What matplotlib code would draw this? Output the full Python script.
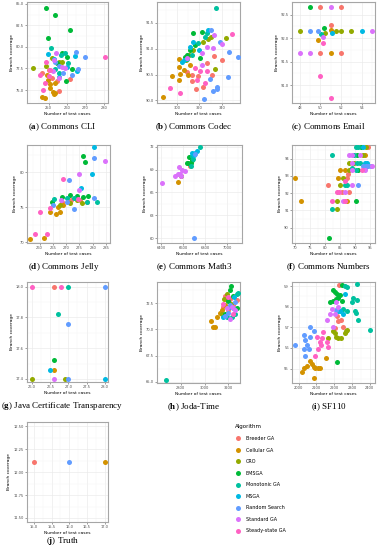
import matplotlib
matplotlib.use("Agg")
import matplotlib.pyplot as plt
from matplotlib.lines import Line2D
from matplotlib.ticker import AutoMinorLocator

plt.rcParams['mathtext.fontset'] = 'custom'
plt.rcParams['mathtext.rm'] = 'Liberation Serif'
plt.rcParams['mathtext.bf'] = 'Liberation Serif:bold'

W, H = 379, 550

algorithms = ['Breeder GA', 'Cellular GA', 'CRO', 'EMSGA', 'Monotonic GA',
              'MSGA', 'Random Search', 'Standard GA', 'Steady-state GA']
colors = ['#F8766D', '#D39200', '#93AA00', '#00BA38', '#00C19F',
          '#00B9E3', '#619CFF', '#DB72FB', '#FF61C3']

# (x = number of test cases, y = branch coverage) per algorithm
cli = {
    'Breeder GA': [(261.6, 76.3), (255.9, 74.9), (250, 77.3), (251.8, 76.4), (254.5, 76.0), (246.4, 77.0)],
    'Cellular GA': [(246.4, 74.2), (248.2, 74.1), (252.7, 74.6), (250.9, 75.2), (250.9, 75.7), (249.6, 76.2),
                    (252.3, 74.8), (253.6, 74.7), (249.1, 76.8), (253.6, 75.8)],
    'CRO': [(241.6, 77.6), (251.8, 78.7), (255.4, 78.3), (248.4, 77.8), (257.1, 78.3)],
    'EMSGA': [(248.6, 84.5), (253.6, 83.7), (261.6, 82.0), (249.6, 81.0), (259.8, 78.8), (262.5, 77.4),
              (259.5, 76.1), (257.1, 79.3), (254.5, 78.1)],
    'Monotonic GA': [(251.4, 79.9), (257, 79.1), (258.9, 79.3), (260.7, 78.1), (253.6, 77.4), (255.9, 77.0)],
    'MSGA': [(249.5, 79.2), (252.7, 78.6), (264.3, 78.9), (265.2, 77.2), (255.4, 76.5), (259.8, 77.7)],
    'Random Search': [(269.6, 78.8), (264.8, 79.4), (266, 77.4), (255.4, 77.8), (258, 77.0), (262.5, 76.7),
                      (253.6, 78.3)],
    'Standard GA': [(254.1, 79.3), (257.1, 77.7), (252.3, 77.2), (255.7, 76.4), (253, 78.5), (258.9, 77.5)],
    'Steady-state GA': [(280.4, 78.8), (248.8, 78.3), (245.5, 76.8), (247.3, 75.0), (248.2, 75.8), (250, 76.6),
                        (250.9, 77.3)],
}

codec = {
    'Breeder GA': [(333.2, 90.85), (340.3, 90.78), (326.5, 90.72), (318.5, 90.47), (316.8, 90.22), (323.5, 90.26),
                   (313.2, 90.37), (330.9, 90.5), (308.8, 90.54), (313.2, 90.5)],
    'Cellular GA': [(287.6, 90.06), (301.5, 90.79), (301.5, 90.65), (301.5, 90.4), (302.4, 90.51), (309.7, 90.5),
                    (305.9, 90.59), (295.6, 90.47), (311.2, 90.69)],
    'CRO': [(343.5, 91.21), (333.8, 90.6), (330.3, 91.23), (327.9, 91.18), (323.5, 91.13), (314.7, 90.97),
            (310.3, 90.88), (308.2, 90.78)],
    'EMSGA': [(314.7, 91.3), (316.2, 91.07), (311.8, 90.97), (308.8, 90.88), (320.6, 90.81), (322.6, 91.33),
              (307.4, 90.84)],
    'Monotonic GA': [(334.4, 91.79), (326.5, 91.31), (325, 91.23), (313.2, 90.88), (308.8, 90.8), (319.1, 91.1)],
    'MSGA': [(305.9, 90.78), (327.4, 91.36), (319.7, 90.97), (314.7, 91.12), (311.8, 91.04), (304.4, 90.75)],
    'Random Search': [(330.3, 91.35), (338.2, 91.13), (346.5, 90.94), (354.4, 90.83), (345, 90.45), (335.3, 90.26),
                      (335.3, 90.22), (324.4, 90.03), (329.4, 90.42), (332.4, 90.18)],
    'Standard GA': [(333.2, 91.26), (339.7, 91.08), (326.5, 91.04), (322.1, 90.91), (308.8, 90.82), (322.1, 90.69),
                    (332.4, 91.01)],
    'Steady-state GA': [(348.5, 91.29), (294.1, 90.24), (303, 90.15), (320.6, 90.56), (317.6, 90.4), (316.2, 90.63),
                        (325, 90.33), (326.5, 90.56)],
}

email = {
    'Breeder GA': [(50, 92.66), (52, 92.66), (51, 92.27), (50, 91.69), (52, 91.69)],
    'Cellular GA': [(51, 92.17), (49.8, 91.97), (51, 91.69)],
    'CRO': [(48, 92.15), (51.5, 92.15), (52, 92.15), (53, 92.15), (50.5, 92.11)],
    'EMSGA': [(49, 92.66), (50.4, 92.22)],
    'Monotonic GA': [(50.1, 92.08)],
    'MSGA': [(54, 92.15), (51.1, 92.11)],
    'Random Search': [(49, 92.15), (49.8, 92.15)],
    'Standard GA': [(51, 92.66), (55, 92.15), (50.3, 92.03), (48, 91.69), (49, 91.69)],
    'Steady-state GA': [(50.3, 91.89), (50, 91.2), (51, 90.72)],
}

jelly = {
    'Breeder GA': [(268.4, 75.8), (275.25, 76.1), (278, 75.8), (271.9, 76.1)],
    'Cellular GA': [(256.5, 70.5), (261.5, 70.6), (263.75, 74.4), (266.25, 74.1), (267.75, 74.3), (267.1, 75.1),
                    (268.8, 75.4)],
    'CRO': [(267.75, 75.4), (271.5, 75.6), (275.9, 75.6), (274, 76.0)],
    'EMSGA': [(276.5, 82.3), (277.1, 81.5), (264.6, 75.7), (268.4, 76.5), (271.5, 76.8), (274, 76.6),
              (276.5, 76.5), (278.4, 76.6)],
    'Monotonic GA': [(281.5, 75.8), (277.75, 75.8), (273, 76.3), (270.25, 76.4), (265.25, 76.2)],
    'MSGA': [(280.5, 83.6), (279.6, 79.7), (275.6, 77.8)],
    'Random Search': [(280.5, 82.0), (271.1, 78.9), (280.3, 76.3), (273, 74.7), (265, 75.4), (270.25, 75.8)],
    'Standard GA': [(284.6, 81.6), (275, 79.7), (275, 77.5), (268, 76.0)],
    'Steady-state GA': [(268.75, 79.1), (260.25, 74.3), (258.4, 71.2), (262.75, 71.2), (264, 74.9), (274.6, 76.2)],
}

math3 = {
    'Breeder GA': [(6658, 69.4), (6665, 69.6)],
    'Cellular GA': [(6555, 67.4)],
    'CRO': [(6582, 68.2)],
    'EMSGA': [(6630, 69.9), (6653, 70.6), (6668, 69.8), (6676, 70.2), (6645, 69.8)],
    'Monotonic GA': [(6683, 70.7), (6691, 70.4), (6752, 71.9), (6673, 69.5)],
    'MSGA': [(6683, 71.1), (6706, 71.1), (6721, 71.4), (6700, 70.9)],
    'Random Search': [(6702, 71.0), (6698, 60.0)],
    'Standard GA': [(6406, 67.2), (6521, 68.2), (6559, 69.3), (6556, 68.4), (6573, 68.4), (6592, 69.0),
                    (6612, 68.8), (6582, 68.1)],
    'Steady-state GA': [],
}

numbers = {
    'Breeder GA': [(94.4, 94.69), (87.8, 93.1), (87.4, 92.9), (81.1, 92.46), (85.6, 92.04), (88.1, 92.04)],
    'Cellular GA': [(93.3, 94.23), (85, 93.33), (86.7, 93.33), (70, 92.9), (84.4, 92.9), (71.9, 91.56),
                    (87.2, 91.56)],
    'CRO': [(93.7, 94.69), (92.6, 94.23), (88.1, 93.77), (89.7, 93.77), (88.1, 93.33), (86.1, 92.9),
            (85, 92.46), (84.1, 91.56), (84.1, 91.1)],
    'EMSGA': [(92.0, 94.69), (90.6, 94.23), (91.1, 93.33), (90.3, 91.56), (81.3, 89.4)],
    'Monotonic GA': [(90.3, 94.69), (91.1, 94.69), (82.2, 94.23), (89.7, 94.23), (90.6, 93.77), (91.7, 93.77),
                     (88.9, 93.48), (90.3, 93.33), (86.7, 92.46), (87.4, 92.46), (82.2, 91.1)],
    'MSGA': [(92.8, 94.69), (93.3, 93.77), (94.1, 93.77)],
    'Random Search': [(92.8, 93.6), (93.7, 93.6), (94.4, 93.6), (95.2, 93.6), (93.3, 93.48), (91.1, 92.46)],
    'Standard GA': [(88.1, 94.23), (88.9, 94.23), (91.7, 94.23), (88.9, 93.77), (95.6, 93.6), (88.9, 93.33),
                    (93.3, 93.33), (88.9, 92.46), (86.7, 92.04), (85.9, 91.56)],
    'Steady-state GA': [(92.2, 93.33), (86.7, 92.7), (83.9, 92.04), (84.8, 92.04), (82.2, 91.56), (86.7, 91.56)],
}

jct = {
    'Breeder GA': [(26.59, 18.0)],
    'Cellular GA': [(26.59, 17.46)],
    'CRO': [(26.0, 17.4), (26.9, 17.4)],
    'EMSGA': [(26.59, 17.52)],
    'Monotonic GA': [(27.0, 18.0), (26.7, 17.82)],
    'MSGA': [(26.5, 17.46), (28.0, 17.4)],
    'Random Search': [(28.0, 18.0), (27.0, 17.76), (27.0, 17.4)],
    'Standard GA': [(26.59, 17.4)],
    'Steady-state GA': [(26.0, 18.0), (26.8, 18.0)],
}

joda = {
    'Breeder GA': [(3172, 73.2), (3214, 72.9), (3242, 72.3), (3200, 71.8), (3158, 72.1), (3270, 72.8)],
    'Cellular GA': [(3056, 70.8), (3067, 70.2), (3089, 70.2), (3103, 71.2), (3145, 71.8), (3172, 72.3),
                    (3131, 71.6), (3186, 72.8)],
    'CRO': [(3167, 72.9), (3186, 73.4), (3222, 72.4), (3145, 71.5)],
    'EMSGA': [(3222, 74.1), (3242, 73.2), (3214, 73.7), (3270, 72.0), (3172, 71.5), (3200, 72.7)],
    'Monotonic GA': [(2678, 65.2), (3283, 73.5), (3256, 71.5), (3228, 71.2), (3186, 71.2), (3270, 73.4)],
    'MSGA': [(3206, 72.1), (3158, 71.2), (3250, 73.1)],
    'Random Search': [(3214, 72.3), (3236, 72.0), (3172, 71.3), (3256, 72.6), (3200, 71.6)],
    'Standard GA': [(3228, 72.1), (3256, 71.8), (3214, 71.0), (3186, 72.0)],
    'Steady-state GA': [(3195, 73.1), (3158, 72.4), (3242, 71.5)],
}

sf110 = {
    'Breeder GA': [(2230, 59.05), (2224, 57.33), (2237, 57.38), (2252, 57.0), (2219, 57.55), (2206, 56.97)],
    'Cellular GA': [(2028, 55.05), (2065, 55.38), (2075, 55.22), (2084, 55.1), (2094, 55.05), (2112, 55.05),
                    (2122, 55.05), (2084, 54.55), (2047, 55.13), (2155, 55.5), (2019, 54.83)],
    'CRO': [(2168, 56.5), (2196, 56.8), (2206, 56.72), (2211, 56.55), (2224, 56.5), (2237, 56.47), (2262, 56.72),
            (2267, 56.83), (2271, 56.88)],
    'EMSGA': [(2193, 58.8), (2206, 58.72), (2215, 58.63), (2224, 58.43), (2196, 58.3), (2178, 58.22),
              (2211, 58.38), (2234, 58.55), (2243, 58.3), (2243, 59.05), (2219, 55.33)],
    'Monotonic GA': [(2327, 59.1), (2262, 59.0), (2275, 58.97), (2309, 58.43), (2327, 58.33), (2318, 57.8),
                     (2337, 57.38), (2402, 56.88), (2299, 58.22), (2324, 57.72), (2252, 57.88), (2275, 57.8)],
    'MSGA': [(2262, 58.63), (2234, 57.8), (2249, 57.63), (2224, 57.77)],
    'Random Search': [(1981, 56.13), (2037, 56.38), (2047, 56.13), (2028, 55.93), (2056, 55.97), (2037, 55.6),
                      (2062, 57.0), (2084, 56.8), (2028, 56.63), (2062, 56.55), (2211, 57.83)],
    'Standard GA': [(2159, 57.38), (2178, 57.63), (2187, 57.88), (2206, 57.67), (2224, 57.97), (2196, 57.0),
                    (2211, 58.22)],
    'Steady-state GA': [(2094, 55.63), (2112, 55.97), (2125, 56.13), (2140, 56.77), (2159, 56.3), (2168, 56.05),
                        (2131, 56.47), (2103, 56.55), (2122, 56.3)],
}

truth = {
    'Breeder GA': [(15.0, 12.11)],
    'Cellular GA': [(17.0, 12.11)],
    'Random Search': [(16.0, 12.11)],
}

# panel: data, caption letter, caption name, box in px (left, top, right, bottom), xlim, ylim, xticks, yticks, fmt
panels = [
    (cli, 'a', 'Commons CLI', (27, 2, 108, 103), (238.4, 282.1), (73.5, 85.2),
     [250, 260, 270, 280], [75, 77.5, 80, 82.5, 85], '%.1f'),
    (codec, 'b', 'Commons Codec', (157, 2, 240, 103), (282.4, 355.9), (89.95, 91.9),
     [300, 320, 340], [90.0, 90.5, 91.0, 91.5], '%.1f'),
    (email, 'c', 'Commons Email', (292, 2, 375, 103), (47.26, 55.3), (90.62, 92.77),
     [48, 50, 52, 54], [91.0, 91.5, 92.0, 92.5], '%.1f'),
    (jelly, 'd', 'Commons Jelly', (27, 145, 110, 243), (255.25, 286.5), (69.9, 83.9),
     [260, 265, 270, 275, 280, 285], [70, 75, 80], '%d'),
    (math3, 'e', 'Commons Math3', (157, 145, 242, 243), (6361, 7133), (59.4, 72.2),
     [6400, 6600, 6800, 7000], [60, 63, 66, 69, 72], '%d'),
    (numbers, 'f', 'Commons Numbers', (292, 145, 375, 243), (68.9, 96.7), (89.1, 94.8),
     [70, 75, 80, 85, 90, 95], [90, 91, 92, 93, 94], '%d'),
    (jct, 'g', 'Java Certificate Transparency', (27, 282, 108, 382), (25.86, 28.09), (17.38, 18.03),
     [26.0, 26.5, 27.0, 27.5, 28.0], [17.4, 17.6, 17.8, 18.0], '%.1f'),
    (joda, 'h', 'Joda-Time', (157, 282, 240, 383), (2602, 3297), (64.9, 74.5),
     [2800, 3000, 3200], [65, 67.5, 70, 72.5], '%.1f'),
    (sf110, 'i', 'SF110', (292, 282, 375, 383), (1963, 2430), (54.3, 59.2),
     [2000, 2100, 2200, 2300, 2400], [55, 56, 57, 58, 59], '%d'),
    (truth, 'j', 'Truth', (27, 422, 108, 522), (14.81, 17.09), (11.456, 12.547),
     [15.0, 15.5, 16.0, 16.5, 17.0], [11.50, 11.75, 12.00, 12.25, 12.50], '%.2f'),
]

fig = plt.figure(figsize=(W / 100, H / 100), dpi=100)

for data, letter, name, box, xlim, ylim, xt, yt, yfmt in panels:
    l, t, r, b = box
    ax = fig.add_axes([l / W, 1 - b / H, (r - l) / W, (b - t) / H])
    for alg, col in zip(algorithms, colors):
        pts = data.get(alg, [])
        if not pts:
            continue
        xs = [p[0] for p in pts]
        ys = [p[1] for p in pts]
        ax.scatter(xs, ys, s=13, color=col, linewidths=0, zorder=3)
    ax.set_xlim(*xlim)
    ax.set_ylim(*ylim)
    ax.set_xticks(xt)
    ax.set_yticks(yt)
    xfmt = '%.1f' if letter in 'gj' else '%d'
    ax.set_xticklabels([xfmt % v for v in xt])
    ax.set_yticklabels([yfmt % v for v in yt])
    ax.xaxis.set_minor_locator(AutoMinorLocator(2))
    ax.yaxis.set_minor_locator(AutoMinorLocator(2))
    ax.grid(True, which='major', color='#EBEBEB', lw=0.5, zorder=0)
    ax.grid(True, which='minor', color='#F4F4F4', lw=0.3, zorder=0)
    ax.set_axisbelow(True)
    ax.tick_params(which='major', length=1.2, width=0.4, color='#555555',
                   labelsize=2.6, labelcolor='#4D4D4D', pad=1)
    ax.tick_params(which='minor', length=0)
    for sp in ax.spines.values():
        sp.set_color('#A6A6A6')
        sp.set_linewidth(0.8)
    ax.set_xlabel('Number of test cases', fontsize=3.2, labelpad=1.2)
    ax.set_ylabel('Branch coverage', fontsize=3.2, labelpad=1.5)
    cap_y = min(b + 24, 541)
    fig.text((l + r) / 2 / W - 5 / W, 1 - cap_y / H, '(' + r'$\mathbf{' + letter + '}$' + ') ' + name,
             ha='center', va='center', fontsize=6.5, family='Liberation Serif')

handles = [Line2D([], [], marker='o', linestyle='', markersize=3.6, markerfacecolor=c,
                  markeredgewidth=0) for c in colors]
leg = fig.legend(handles, algorithms, loc='upper left', bbox_to_anchor=(232 / W, 1 - 421 / H),
                 frameon=False, title='Algorithm', fontsize=3.5, title_fontsize=4,
                 labelspacing=1.35, handletextpad=0.9, handlelength=1.2, borderpad=0.2)
leg._legend_box.align = 'left'

fig.savefig('out.png', dpi=100)
